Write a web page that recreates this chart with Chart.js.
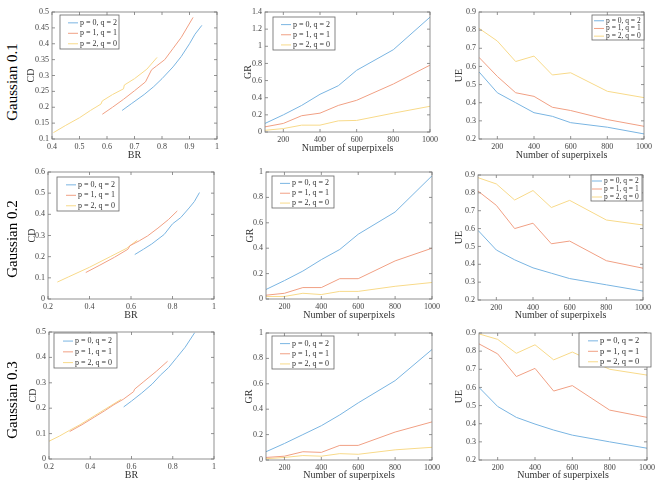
<!DOCTYPE html>
<html lang="en">
<head>
<meta charset="UTF-8">
<title>Superpixel metrics under Gaussian noise</title>
<script src="https://cdn.jsdelivr.net/npm/chart.js"></script>
<style>
  body { margin: 0; background: #fff; overflow: hidden; width: 664px; height: 481px; position: relative; }
  canvas { position: absolute; }
  .row-label { position: absolute; font-family: "Liberation Serif", serif; font-size: 15px; color: #000;
               transform: translate(-50%, -50%) rotate(-90deg); white-space: nowrap; }
</style>
</head>
<body>
<script>
// ---- data ----
const seriesLabels = ['p = 0, q = 2', 'p = 1, q = 1', 'p = 2, q = 0'];
const rowLabels = ['Gaussian 0.1', 'Gaussian 0.2', 'Gaussian 0.3'];
const nSuper = [100, 200, 300, 400, 500, 600, 800, 1000];
const superTicks = [200, 400, 600, 800, 1000];

// CD vs BR, Gaussian 0.1
const br1a = [0.655, 0.69, 0.735, 0.77, 0.80, 0.84, 0.87, 0.90, 0.92, 0.945];
const cd1a = [0.19, 0.212, 0.24, 0.265, 0.29, 0.327, 0.36, 0.40, 0.43, 0.458];
const br1b = [0.583, 0.62, 0.66, 0.70, 0.74, 0.762, 0.78, 0.81, 0.84, 0.87, 0.913];
const cd1b = [0.178, 0.2, 0.225, 0.252, 0.28, 0.318, 0.33, 0.35, 0.385, 0.42, 0.483];
const br1c = [0.405, 0.45, 0.5, 0.54, 0.578, 0.583, 0.62, 0.66, 0.663, 0.70, 0.745, 0.782];
const cd1c = [0.12, 0.143, 0.167, 0.19, 0.21, 0.22, 0.24, 0.258, 0.27, 0.29, 0.32, 0.357];
// CD vs BR, Gaussian 0.2
const br2a = [0.618, 0.66, 0.70, 0.76, 0.80, 0.84, 0.88, 0.905, 0.93];
const cd2a = [0.21, 0.235, 0.26, 0.305, 0.355, 0.385, 0.43, 0.46, 0.503];
const br2b = [0.382, 0.45, 0.52, 0.585, 0.595, 0.64, 0.68, 0.73, 0.78, 0.823];
const cd2b = [0.125, 0.16, 0.197, 0.235, 0.252, 0.275, 0.298, 0.335, 0.375, 0.416];
const br2c = [0.245, 0.3, 0.4, 0.5, 0.58, 0.63];
const cd2c = [0.08, 0.105, 0.15, 0.2, 0.24, 0.278];
// CD vs BR, Gaussian 0.3
const br3a = [0.562, 0.6, 0.65, 0.7, 0.74, 0.78, 0.82, 0.86, 0.906];
const cd3a = [0.205, 0.228, 0.26, 0.295, 0.33, 0.36, 0.4, 0.44, 0.497];
const br3b = [0.30, 0.36, 0.42, 0.47, 0.515, 0.56, 0.61, 0.615, 0.66, 0.72, 0.775];
const cd3b = [0.108, 0.135, 0.165, 0.19, 0.214, 0.235, 0.265, 0.275, 0.305, 0.345, 0.385];
const br3c = [0.2, 0.25, 0.3, 0.35, 0.4, 0.45, 0.5, 0.55];
const cd3c = [0.07, 0.09, 0.113, 0.135, 0.16, 0.185, 0.21, 0.235];

// GR vs number of superpixels
const gr1 = [[0.1, 0.2, 0.31, 0.44, 0.54, 0.72, 0.96, 1.34],
             [0.06, 0.1, 0.19, 0.22, 0.31, 0.37, 0.56, 0.78],
             [0.02, 0.04, 0.08, 0.08, 0.13, 0.135, 0.22, 0.3]];
const gr2 = [[0.075, 0.145, 0.22, 0.31, 0.39, 0.51, 0.685, 0.97],
             [0.03, 0.045, 0.09, 0.09, 0.16, 0.16, 0.3, 0.4],
             [0.02, 0.02, 0.045, 0.035, 0.06, 0.06, 0.1, 0.13]];
const gr3 = [[0.065, 0.13, 0.2, 0.27, 0.355, 0.45, 0.625, 0.87],
             [0.02, 0.03, 0.065, 0.06, 0.115, 0.115, 0.22, 0.3],
             [0.01, 0.02, 0.035, 0.03, 0.05, 0.045, 0.08, 0.1]];
// UE vs number of superpixels
const ue1 = [[0.57, 0.455, 0.40, 0.345, 0.325, 0.29, 0.265, 0.228],
             [0.65, 0.545, 0.455, 0.435, 0.375, 0.357, 0.307, 0.27],
             [0.81, 0.74, 0.627, 0.657, 0.553, 0.565, 0.463, 0.428]];
const ue2 = [[0.59, 0.48, 0.425, 0.38, 0.35, 0.32, 0.285, 0.25],
             [0.81, 0.73, 0.60, 0.63, 0.515, 0.53, 0.42, 0.378],
             [0.885, 0.85, 0.76, 0.813, 0.718, 0.758, 0.648, 0.62]];
const ue3 = [[0.6, 0.495, 0.435, 0.398, 0.365, 0.337, 0.3, 0.265],
             [0.84, 0.785, 0.66, 0.705, 0.58, 0.61, 0.475, 0.435],
             [0.895, 0.865, 0.788, 0.835, 0.752, 0.795, 0.70, 0.668]];

// tick values
const brTicks1 = [0.4, 0.5, 0.6, 0.7, 0.8, 0.9, 1];
const brTicks23 = [0.2, 0.4, 0.6, 0.8, 1];
const cdTicks1 = [0.1, 0.15, 0.2, 0.25, 0.3, 0.35, 0.4, 0.45, 0.5];
const cdTicks2 = [0, 0.1, 0.2, 0.3, 0.4, 0.5, 0.6];
const cdTicks3 = [0, 0.1, 0.2, 0.3, 0.4, 0.5];
const grTicks1 = [0, 0.2, 0.4, 0.6, 0.8, 1, 1.2, 1.4];
const grTicks23 = [0, 0.2, 0.4, 0.6, 0.8, 1];
const ueTicks = [0.2, 0.3, 0.4, 0.5, 0.6, 0.7, 0.8, 0.9];

// ---- styling ----
const colors = ['rgb(122,181,226)', 'rgb(241,160,132)', 'rgb(248,218,138)'];
const serif = '"Liberation Serif", "Times New Roman", serif';

// draws a MATLAB-like box with inward ticks, and the legend
const matlabAxes = {
  id: 'matlabAxes',
  afterDraw(chart) {
    const ctx = chart.ctx, a = chart.chartArea;
    const xs = chart.scales.x, ys = chart.scales.y;
    ctx.save();
    ctx.strokeStyle = '#777';
    ctx.lineWidth = 0.8;
    ctx.strokeRect(a.left, a.top, a.right - a.left, a.bottom - a.top);
    ctx.beginPath();
    xs.ticks.forEach(t => {
      const px = xs.getPixelForValue(t.value);
      ctx.moveTo(px, a.bottom); ctx.lineTo(px, a.bottom - 3);
      ctx.moveTo(px, a.top); ctx.lineTo(px, a.top + 3);
    });
    ys.ticks.forEach(t => {
      const py = ys.getPixelForValue(t.value);
      ctx.moveTo(a.left, py); ctx.lineTo(a.left + 3, py);
      ctx.moveTo(a.right, py); ctx.lineTo(a.right - 3, py);
    });
    ctx.stroke();

    const lg = chart.options.plugins.matlabAxes;
    const bx = lg.left != null ? a.left + lg.left : a.right - lg.right - lg.w;
    const by = a.top + lg.top;
    ctx.fillStyle = '#fff';
    ctx.fillRect(bx, by, lg.w, lg.h);
    ctx.strokeStyle = '#666';
    ctx.strokeRect(bx, by, lg.w, lg.h);
    ctx.font = (lg.font || 8) + 'px ' + serif;
    ctx.textBaseline = 'middle';
    chart.data.datasets.forEach((ds, i) => {
      const yy = by + lg.h * (i + 0.75) / 3.25;
      ctx.strokeStyle = ds.borderColor;
      ctx.lineWidth = 1;
      ctx.beginPath();
      ctx.moveTo(bx + lg.pad, yy); ctx.lineTo(bx + lg.pad + 10, yy);
      ctx.stroke();
      ctx.fillStyle = '#333';
      ctx.fillText(ds.label, bx + lg.pad + 12, yy);
    });
    ctx.restore();
  }
};

function pairs(xv, yv) { return xv.map((v, k) => ({ x: v, y: yv[k] })); }
const fmt = v => String(+(+v).toFixed(3));

const panels = [
  { area: [52, 12, 217, 139], yTitleX: 31, xTitleY: 155, xTitle: 'BR', yTitle: 'CD',
    xr: [0.4, 1], yr: [0.1, 0.5], xt: brTicks1, yt: cdTicks1,
    series: [pairs(br1a, cd1a), pairs(br1b, cd1b), pairs(br1c, cd1c)],
    legend: { left: 8, top: 3, w: 59, h: 34, pad: 8 } },
  { area: [265, 12, 430, 132], yTitleX: 248, xTitleY: 148, xTitle: 'Number of superpixels', yTitle: 'GR',
    xr: [100, 1000], yr: [0, 1.4], xt: superTicks, yt: grTicks1,
    series: gr1.map(s => pairs(nSuper, s)),
    legend: { left: 8, top: 5, w: 62, h: 33, pad: 8 } },
  { area: [479, 12, 644, 139], yTitleX: 459, xTitleY: 155, xTitle: 'Number of superpixels', yTitle: 'UE',
    xr: [100, 1000], yr: [0.2, 0.9], xt: superTicks, yt: ueTicks,
    series: ue1.map(s => pairs(nSuper, s)),
    legend: { right: 0, top: 3, w: 52, h: 25, pad: 2, font: 7.5 } },
  { area: [48, 172, 214, 299], yTitleX: 32, xTitleY: 315, xTitle: 'BR', yTitle: 'CD',
    xr: [0.2, 1], yr: [0, 0.6], xt: brTicks23, yt: cdTicks2,
    series: [pairs(br2a, cd2a), pairs(br2b, cd2b), pairs(br2c, cd2c)],
    legend: { left: 9, top: 5, w: 62, h: 34, pad: 9 } },
  { area: [266, 172, 432, 299], yTitleX: 250, xTitleY: 315, xTitle: 'Number of superpixels', yTitle: 'GR',
    xr: [100, 1000], yr: [0, 1], xt: superTicks, yt: grTicks23,
    series: gr2.map(s => pairs(nSuper, s)),
    legend: { left: 6, top: 4, w: 62, h: 32, pad: 8 } },
  { area: [478, 175, 643, 300], yTitleX: 459, xTitleY: 315, xTitle: 'Number of superpixels', yTitle: 'UE',
    xr: [100, 1000], yr: [0.2, 0.9], xt: superTicks, yt: ueTicks,
    series: ue2.map(s => pairs(nSuper, s)),
    legend: { right: 1, top: 0, w: 51, h: 26, pad: 1, font: 7.5 } },
  { area: [49, 332, 214, 459], yTitleX: 33, xTitleY: 475, xTitle: 'BR', yTitle: 'CD',
    xr: [0.2, 1], yr: [0, 0.5], xt: brTicks23, yt: cdTicks3,
    series: [pairs(br3a, cd3a), pairs(br3b, cd3b), pairs(br3c, cd3c)],
    legend: { left: 5, top: 1, w: 63, h: 35, pad: 9 } },
  { area: [266, 333, 432, 460], yTitleX: 249, xTitleY: 475, xTitle: 'Number of superpixels', yTitle: 'GR',
    xr: [100, 1000], yr: [0, 1], xt: superTicks, yt: grTicks23,
    series: gr3.map(s => pairs(nSuper, s)),
    legend: { left: 6, top: 3, w: 62, h: 33, pad: 8 } },
  { area: [479, 333, 647, 460], yTitleX: 459, xTitleY: 475, xTitle: 'Number of superpixels', yTitle: 'UE',
    xr: [100, 1000], yr: [0.2, 0.9], xt: superTicks, yt: ueTicks,
    series: ue3.map(s => pairs(nSuper, s)),
    legend: { left: 100, top: 0, w: 72, h: 34, pad: 9, font: 8.5 } }
];

function makePanel(p) {
  const [x0, y0, x1, y1] = p.area;
  const cx = p.yTitleX - 9, cy = y0 - 10;
  const cr = Math.min(x1 + 20, 664), cb = p.xTitleY + 8;
  const canvas = document.createElement('canvas');
  canvas.width = cr - cx; canvas.height = cb - cy;
  canvas.style.left = cx + 'px'; canvas.style.top = cy + 'px';
  canvas.style.width = (cr - cx) + 'px'; canvas.style.height = (cb - cy) + 'px';
  document.body.appendChild(canvas);

  const tickFont = { family: serif, size: 8 };
  const titleFont = { family: serif, size: 10, weight: 'normal' };
  new Chart(canvas, {
    type: 'line',
    data: {
      datasets: p.series.map((d, i) => ({
        label: seriesLabels[i], data: d, borderColor: colors[i],
        borderWidth: 1, pointRadius: 0, tension: 0, fill: false
      }))
    },
    options: {
      responsive: false, animation: false, devicePixelRatio: 1,
      layout: { padding: { left: 0, top: y0 - cy, right: cr - x1, bottom: 0 } },
      plugins: { legend: { display: false }, tooltip: { enabled: false }, matlabAxes: p.legend },
      scales: {
        x: {
          type: 'linear', min: p.xr[0], max: p.xr[1],
          afterBuildTicks: s => { s.ticks = p.xt.map(v => ({ value: v })); },
          afterFit: s => { s.height = cb - y1; s.paddingLeft = s.paddingRight = 0; },
          ticks: { font: tickFont, color: '#444', padding: 3, maxRotation: 0, autoSkip: false, callback: fmt },
          grid: { display: false, drawTicks: false }, border: { display: false },
          title: { display: true, text: p.xTitle, font: titleFont, color: '#333', padding: { top: 0, bottom: 2 } }
        },
        y: {
          type: 'linear', min: p.yr[0], max: p.yr[1],
          afterBuildTicks: s => { s.ticks = p.yt.map(v => ({ value: v })); },
          afterFit: s => { s.width = x0 - cx; s.paddingTop = s.paddingBottom = 0; },
          ticks: { font: tickFont, color: '#444', padding: 3, autoSkip: false, callback: fmt },
          grid: { display: false, drawTicks: false }, border: { display: false },
          title: { display: true, text: p.yTitle, font: titleFont, color: '#333', padding: { top: 3, bottom: 0 } }
        }
      }
    },
    plugins: [matlabAxes]
  });
}

panels.forEach(makePanel);

// row captions on the left
const rowCentres = [82, 239, 400];
rowLabels.forEach((t, i) => {
  const d = document.createElement('div');
  d.className = 'row-label';
  d.textContent = t;
  d.style.left = '12px';
  d.style.top = rowCentres[i] + 'px';
  document.body.appendChild(d);
});
</script>
</body>
</html>
